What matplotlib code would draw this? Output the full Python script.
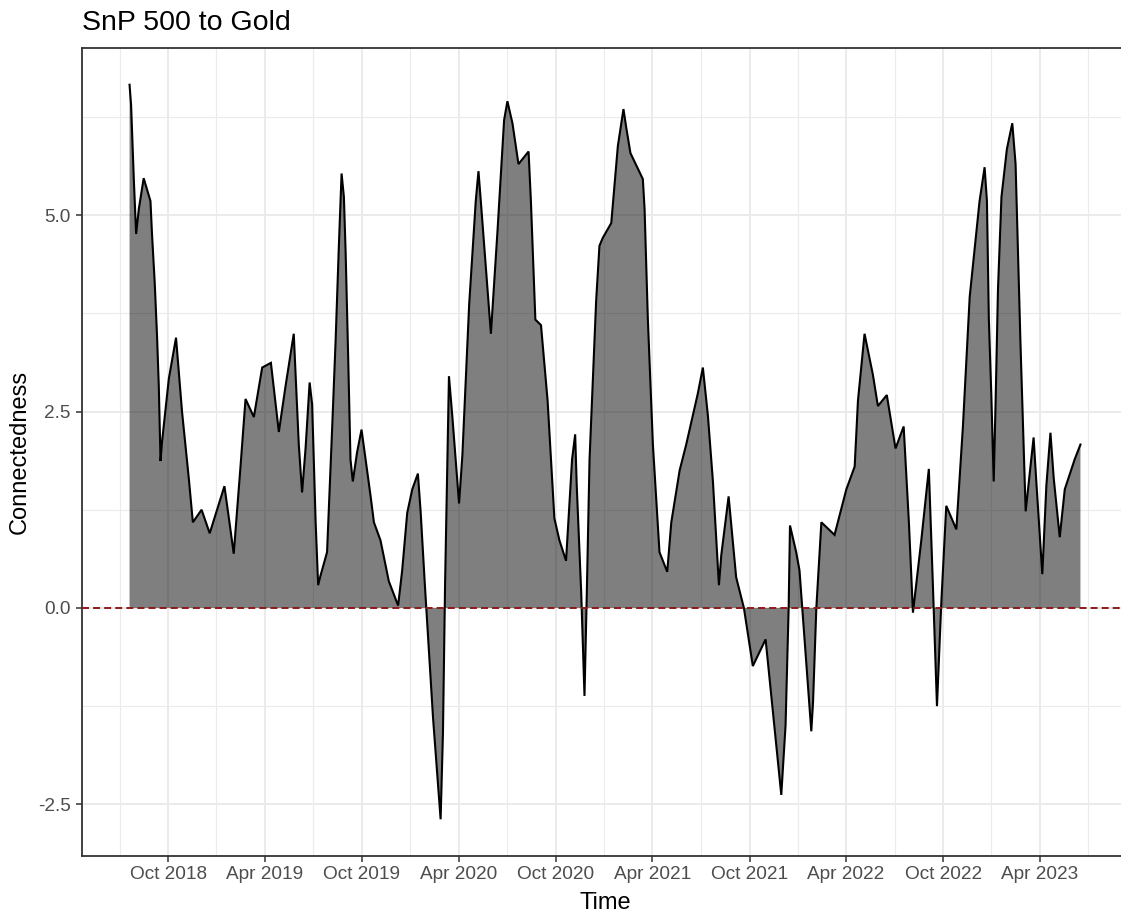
import numpy as np
import pandas as pd
import matplotlib
matplotlib.use("Agg")
import matplotlib.pyplot as plt
import matplotlib.dates as mdates

# Net connectedness from the S&P 500 to gold, sampled at its turning points
# (time given as decimal years).
time_years = [
    2018.549, 2018.557, 2018.571, 2018.583, 2018.597, 2018.622, 2018.657, 2018.665,
    2018.679, 2018.691, 2018.700, 2018.709, 2018.717, 2018.752, 2018.789, 2018.820,
    2018.855, 2018.876, 2018.921, 2018.963, 2019.039, 2019.065, 2019.087, 2019.122,
    2019.148, 2019.191, 2019.234, 2019.279, 2019.320, 2019.355, 2019.397, 2019.423,
    2019.440, 2019.458, 2019.479, 2019.492, 2019.510, 2019.523, 2019.535, 2019.569,
    2019.595, 2019.613, 2019.630, 2019.644, 2019.656, 2019.665, 2019.678, 2019.690,
    2019.702, 2019.724, 2019.747, 2019.768, 2019.794, 2019.811, 2019.845, 2019.888,
    2019.936, 2019.957, 2019.983, 2020.009, 2020.038, 2020.052, 2020.074, 2020.116,
    2020.155, 2020.167, 2020.178, 2020.198, 2020.215, 2020.250, 2020.267, 2020.302,
    2020.336, 2020.350, 2020.362, 2020.414, 2020.448, 2020.482, 2020.499, 2020.525,
    2020.556, 2020.608, 2020.620, 2020.643, 2020.672, 2020.706, 2020.741, 2020.767,
    2020.801, 2020.832, 2020.848, 2020.856, 2020.879, 2020.896, 2020.908, 2020.922,
    2020.956, 2020.973, 2020.990, 2021.034, 2021.068, 2021.097, 2021.111, 2021.133,
    2021.197, 2021.206, 2021.223, 2021.249, 2021.283, 2021.323, 2021.344, 2021.387,
    2021.421, 2021.481, 2021.507, 2021.533, 2021.559, 2021.590, 2021.602, 2021.640,
    2021.679, 2021.719, 2021.765, 2021.831, 2021.912, 2021.934, 2021.950, 2021.957,
    2021.989, 2022.006, 2022.067, 2022.076, 2022.093, 2022.119, 2022.187, 2022.248,
    2022.291, 2022.308, 2022.342, 2022.385, 2022.411, 2022.457, 2022.502, 2022.544,
    2022.571, 2022.592, 2022.635, 2022.674, 2022.695, 2022.716, 2022.739, 2022.764,
    2022.816, 2022.850, 2022.885, 2022.936, 2022.962, 2022.974, 2022.984, 2022.997,
    2023.009, 2023.019, 2023.031, 2023.049, 2023.077, 2023.105, 2023.122, 2023.147,
    2023.174, 2023.215, 2023.229, 2023.260, 2023.281, 2023.302, 2023.319, 2023.350,
    2023.376, 2023.427, 2023.457,
]

connectedness = [
    6.66, 6.40, 5.46, 4.76, 5.08, 5.47, 5.18, 4.76,
    4.14, 3.46, 2.83, 1.87, 2.12, 2.92, 3.44, 2.50,
    1.65, 1.09, 1.25, 0.95, 1.55, 1.09, 0.69, 1.80,
    2.66, 2.43, 3.06, 3.12, 2.24, 2.83, 3.49, 2.08,
    1.47, 2.03, 2.87, 2.59, 1.09, 0.29, 0.41, 0.71,
    2.27, 3.39, 4.61, 5.53, 5.23, 4.52, 3.20, 1.89,
    1.61, 1.98, 2.27, 1.89, 1.42, 1.09, 0.86, 0.34,
    0.03, 0.48, 1.21, 1.51, 1.71, 1.23, 0.29, -1.40,
    -2.69, -1.60, 0.30, 2.95, 2.45, 1.33, 1.94, 3.86,
    5.18, 5.56, 5.18, 3.49, 4.80, 6.21, 6.45, 6.17,
    5.65, 5.81, 5.18, 3.67, 3.60, 2.64, 1.14, 0.86,
    0.60, 1.89, 2.21, 1.56, 0.20, -1.12, 0.20, 1.89,
    3.91, 4.61, 4.71, 4.90, 5.88, 6.35, 6.12, 5.79,
    5.46, 5.08, 3.67, 2.08, 0.71, 0.46, 1.09, 1.75,
    2.08, 2.73, 3.06, 2.45, 1.61, 0.29, 0.67, 1.42,
    0.39, 0.00, -0.74, -0.40, -2.38, -1.50, 0.00, 1.05,
    0.71, 0.48, -1.57, -1.20, 0.00, 1.09, 0.93, 1.51,
    1.80, 2.64, 3.49, 2.97, 2.57, 2.71, 2.03, 2.31,
    1.09, -0.06, 0.86, 1.77, 0.29, -1.25, 0.10, 1.30,
    1.00, 2.31, 3.96, 5.18, 5.61, 5.18, 3.67, 2.69,
    1.61, 2.64, 4.05, 5.23, 5.84, 6.17, 5.65, 3.39,
    1.23, 2.17, 1.61, 0.43, 1.56, 2.23, 1.65, 0.90,
    1.51, 1.89, 2.08,
]

y_major = [-2.5, 0.0, 2.5, 5.0]
y_labels = ["-2.5", "0.0", "2.5", "5.0"]
title = "SnP 500 to Gold"
x_title = "Time"
y_title = "Connectedness"


def decimal_year_to_timestamp(t):
    year = int(np.floor(t))
    start = pd.Timestamp(year=year, month=1, day=1)
    end = pd.Timestamp(year=year + 1, month=1, day=1)
    return start + (end - start) * (t - year)


dates = [decimal_year_to_timestamp(t) for t in time_years]
x = mdates.date2num(dates)
y = np.asarray(connectedness)

plt.rcParams["font.family"] = ["Liberation Sans", "DejaVu Sans"]

W, H = 1121, 914
fig = plt.figure(figsize=(W / 100, H / 100), dpi=100)
fig.patch.set_facecolor("white")

# panel: left 82px, top 48px, bottom 856px; the right side runs past the canvas edge
ax = fig.add_axes([82 / W, 1 - 856 / H, 1046 / W, 808 / H])
ax.set_facecolor("white")

# ggplot-style 5% expansion on both scales
xpad = 0.05 * (x.max() - x.min())
ax.set_xlim(x.min() - xpad, x.max() + xpad)
ypad = 0.05 * (y.max() - y.min())
ax.set_ylim(y.min() - ypad, y.max() + ypad)

# date breaks every six months, minor breaks halfway between
breaks = pd.date_range("2018-04-01", "2023-10-01", freq="6MS")
bnum = mdates.date2num(breaks)
lo, hi = ax.get_xlim()
major_x = [b for b in bnum if lo <= b <= hi]
minor_x = [(a + b) / 2 for a, b in zip(bnum[:-1], bnum[1:]) if lo <= (a + b) / 2 <= hi]
ax.set_xticks(major_x)
ax.set_xticklabels([mdates.num2date(b).strftime("%b %Y") for b in major_x])
ax.set_xticks(minor_x, minor=True)

ax.set_yticks(y_major)
ax.set_yticklabels(y_labels)
ax.set_yticks([(a + b) / 2 for a, b in zip(y_major[:-1], y_major[1:])] + [6.25], minor=True)

ax.grid(True, which="major", color="#EBEBEB", linewidth=1.4, zorder=0)
ax.grid(True, which="minor", color="#EBEBEB", linewidth=0.8, zorder=0)
ax.set_axisbelow(True)

ax.fill_between(x, y, 0, facecolor="black", alpha=0.5, linewidth=0, zorder=2)
ax.plot(x, y, color="black", linewidth=1.5, solid_joinstyle="miter", zorder=3)
ax.axhline(0, color="#8B1A1A", linewidth=1.4, linestyle=(0, (3.6, 2.1)), zorder=4)

for s in ax.spines.values():
    s.set_color("#333333")
    s.set_linewidth(1.3)

ax.tick_params(which="major", length=4.3, width=1.1, color="#333333",
               labelsize=13.7, labelcolor="#4D4D4D", pad=3)
ax.tick_params(axis="y", which="major", pad=4)
ax.tick_params(which="minor", length=0)

ax.set_xlabel(x_title, fontsize=17, color="black")
ax.xaxis.set_label_coords(0.5, (856 - 903) / 808)
ax.xaxis.label.set_va("center")
ax.set_ylabel(y_title, fontsize=17, color="black")
ax.yaxis.set_label_coords((20 - 82) / 1046, 0.5)
ax.yaxis.label.set_va("center")

fig.text(82 / W, 1 - 30 / H, title, fontsize=20.5, color="black", ha="left", va="baseline")

fig.savefig("out.png", dpi=100)
